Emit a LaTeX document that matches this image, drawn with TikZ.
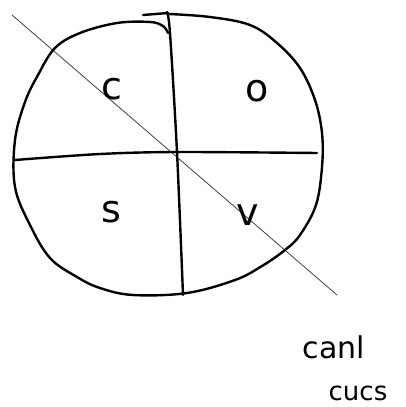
\documentclass[tikz,border=0pt]{standalone}
\usepackage{fontspec}
\setmainfont{DejaVu Sans}
\begin{document}
\begin{tikzpicture}[x=1pt,y=-1pt,
  thick line/.style={line width=2.4pt,line cap=round,line join=round},
  thin line/.style={line width=0.8pt,black!75},
  label/.style={font=\fontsize{38}{38}\selectfont,inner sep=0pt},
  note/.style={font=\fontsize{30}{30}\selectfont,inner sep=0pt}]
\useasboundingbox (0,0) rectangle (406,407);
% diagonal thin line
\draw[thin line] (12,15) -- (337,295);
% outline
\draw[thick line] plot[smooth,tension=0.6] coordinates {
  (169,14) (210,17) (250,25) (277,43) (300,68) (315,100) (322,133)
  (322,167) (316,205) (300,235) (285,250) (262,266) (235,280) (187,293)
  (133,295) (100,288) (77,277) (50,258) (30,225) (15,187) (15,140)
  (25,102) (38,75) (55,48) (80,33) (117,23) (150,22) (163,26) (168,33)};
% vertical line with short top stroke
\draw[thick line] (143,15) -- (168,13);
\draw[thick line] plot[smooth,tension=0.5] coordinates {(167,12) (170,33) (177,152) (183,295)};
% horizontal line
\draw[thick line] plot[smooth,tension=0.5] coordinates {(15,160) (100,154) (177,152) (317,153)};
% labels
\node[label] (c) at (112,89) {c};
\node[label] (o) at (257,91) {o};
\node[label] (s) at (111,212) {s};
\node[label] (v) at (248,215) {v};
\node[note] (t1) at (334,347) {canl};
\node[note,font=\fontsize{26}{26}\selectfont] (t2) at (358,393) {cucs};
\end{tikzpicture}
\end{document}
